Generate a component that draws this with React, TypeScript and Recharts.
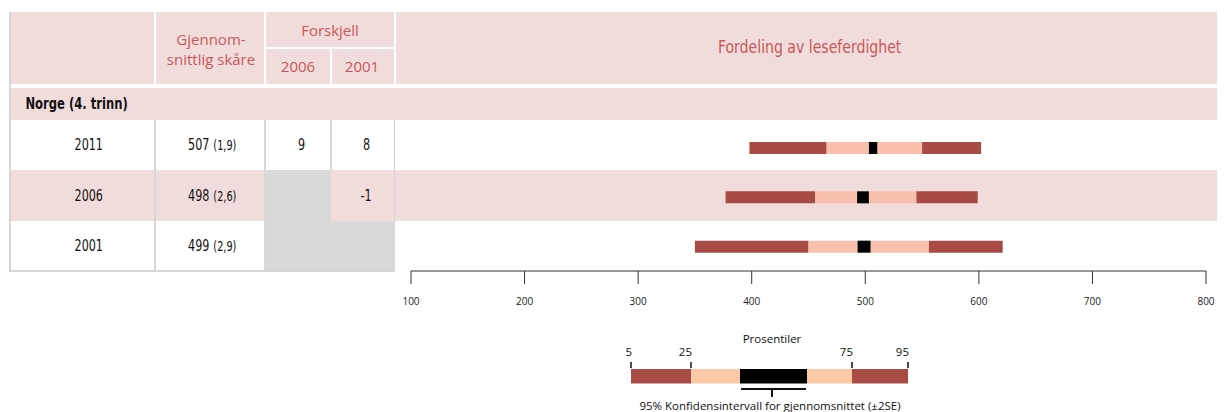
import React from 'react';
import { BarChart, Bar, XAxis, YAxis } from 'recharts';

// rows of the table / chart
const YEARS = ['2011', '2006', '2001'];
const MEANS = [507, 498, 499];
const SE = [1.9, 2.6, 2.9];
const DIFF_2006 = ['9', '', ''];
const DIFF_2001 = ['8', '-1', ''];
// percentiles
const P5 = [398, 377, 350];
const P25 = [466, 456, 450];
const P75 = [550, 545, 556];
const P95 = [602, 599, 621];
const AXIS_TICKS = [100, 200, 300, 400, 500, 600, 700, 800];

// schematic legend bar (arbitrary units)
const LEGEND_STOPS = [0, 60, 109, 176, 221, 277];
const LEGEND_TICKS = [0, 60, 221, 277];
const LEGEND_LABELS = ['5', '25', '75', '95'];

const PINK = '#f1dcdc';
const RED_TEXT = '#c9585a';
const DARK = '#a84b44';
const LIGHT = '#f9c0ab';
const LEGEND_LIGHT = '#fbc9a5';
const GRAY = '#d9d9d9';
const LINE = '#d6d6d6';

const NARROW = "'Liberation Sans Narrow', 'Arial Narrow', 'DejaVu Sans Condensed', sans-serif";
const SANS = "'Open Sans', 'Noto Sans', sans-serif";

const rowTops = [120, 170, 221];
const rowBottoms = [170, 221, 270];

const Box = ({ x1, y1, x2, y2, bg }: any) => (
  <div style={{ position: 'absolute', left: x1, top: y1, width: x2 - x1, height: y2 - y1, background: bg }} />
);

const Txt = ({ cx, cy, children, style, squeeze = 1 }: any) => (
  <div
    style={{
      position: 'absolute', left: cx - 150, top: cy - 12, width: 300, height: 24,
      display: 'flex', alignItems: 'center', justifyContent: 'center', whiteSpace: 'nowrap',
      ...style,
    }}
  >
    <span style={{ display: 'inline-block', transform: `scaleX(${squeeze})` }}>{children}</span>
  </div>
);

const LegendTick = (props: any) => {
  const { x, y, payload } = props;
  const idx = LEGEND_TICKS.indexOf(payload.value);
  return (
    <text x={x + 1} y={y} textAnchor="end" fontSize={11.5} fill="#111" fontFamily={SANS}>
      {LEGEND_LABELS[idx]}
    </text>
  );
};

export default function App() {
  const data = YEARS.map((year, i) => {
    const lo = MEANS[i] - 2 * SE[i];
    const hi = MEANS[i] + 2 * SE[i];
    return {
      year,
      base: P5[i],
      s1: P25[i] - P5[i],
      s2: lo - P25[i],
      s3: hi - lo,
      s4: P75[i] - hi,
      s5: P95[i] - P75[i],
    };
  });

  const legendData = [{
    name: 'legend',
    s1: LEGEND_STOPS[1] - LEGEND_STOPS[0],
    s2: LEGEND_STOPS[2] - LEGEND_STOPS[1],
    s3: LEGEND_STOPS[3] - LEGEND_STOPS[2],
    s4: LEGEND_STOPS[4] - LEGEND_STOPS[3],
    s5: LEGEND_STOPS[5] - LEGEND_STOPS[4],
  }];

  const headText = { color: RED_TEXT, fontFamily: SANS, fontSize: 15 };
  const cellText = { color: '#111', fontFamily: NARROW, fontSize: 15.5 };

  return (
    <div style={{ position: 'relative', width: 1225, height: 412, margin: '-8px 0 0 -8px', background: '#fff', overflow: 'hidden' }}>
      {/* header cells */}
      <Box x1={11} y1={12} x2={153.5} y2={83.5} bg={PINK} />
      <Box x1={155.5} y1={12} x2={263.5} y2={83.5} bg={PINK} />
      <Box x1={265.5} y1={12} x2={393.5} y2={47} bg={PINK} />
      <Box x1={265.5} y1={49} x2={329.5} y2={83.5} bg={PINK} />
      <Box x1={331.5} y1={49} x2={393.5} y2={83.5} bg={PINK} />
      <Box x1={395.5} y1={12} x2={1222} y2={83.5} bg={PINK} />
      {/* Norge row */}
      <Box x1={11} y1={87.5} x2={1222} y2={120} bg={PINK} />
      {/* 2006 row band */}
      <Box x1={11} y1={170} x2={1222} y2={221} bg={PINK} />
      {/* table lines */}
      <Box x1={9} y1={12} x2={11} y2={272} bg={LINE} />
      <Box x1={9} y1={270} x2={395} y2={272} bg={LINE} />
      <Box x1={1221.5} y1={12} x2={1222.5} y2={120} bg={LINE} />
      {[153.5, 263.5].map((x) => (
        <Box key={x} x1={x} y1={120} x2={x + 2} y2={270} bg={LINE} />
      ))}
      <Box x1={329.5} y1={120} x2={331.5} y2={170} bg={LINE} />
      <Box x1={393.5} y1={120} x2={395} y2={221} bg={LINE} />
      {/* empty difference cells */}
      <Box x1={265} y1={170} x2={331} y2={221} bg={GRAY} />
      <Box x1={265} y1={221} x2={395} y2={270} bg={GRAY} />

      {/* header texts */}
      <Txt cx={211} cy={39} style={headText}>Gjennom-</Txt>
      <Txt cx={211} cy={59} style={headText}>snittlig skåre</Txt>
      <Txt cx={330} cy={30} style={headText}>Forskjell</Txt>
      <Txt cx={298} cy={66} style={headText}>2006</Txt>
      <Txt cx={362} cy={66} style={headText}>2001</Txt>
      <Txt cx={810} cy={47} squeeze={0.92} style={{ ...headText, fontFamily: NARROW, fontSize: 17 }}>Fordeling av leseferdighet</Txt>
      <Txt cx={77} cy={103} squeeze={0.78} style={{ fontFamily: NARROW, fontWeight: 700, fontSize: 16.5, color: '#111' }}>
        Norge (4. trinn)
      </Txt>

      {/* row texts */}
      {YEARS.map((y, i) => {
        const cy = (rowTops[i] + rowBottoms[i]) / 2;
        return (
          <React.Fragment key={y}>
            <Txt cx={88.5} cy={cy} squeeze={0.8} style={cellText}>{y}</Txt>
            <Txt cx={212} cy={cy} squeeze={0.8} style={cellText}>
              {MEANS[i]}<span style={{ fontSize: 13.5, marginLeft: 5 }}>({SE[i].toFixed(1).replace('.', ',')})</span>
            </Txt>
            <Txt cx={301} cy={cy} squeeze={0.8} style={cellText}>{DIFF_2006[i]}</Txt>
            <Txt cx={366} cy={cy} squeeze={0.8} style={cellText}>{DIFF_2001[i]}</Txt>
          </React.Fragment>
        );
      })}

      {/* distribution bars */}
      <div style={{ position: 'absolute', left: 395, top: 115 }}>
        <BarChart
          width={827}
          height={200}
          data={data}
          layout="vertical"
          margin={{ top: 6, right: 16, bottom: 0, left: 16 }}
        >
          <XAxis
            type="number"
            domain={[100, 800]}
            allowDataOverflow
            ticks={AXIS_TICKS}
            interval={0}
            height={44}
            axisLine={{ stroke: '#777', strokeWidth: 1.5 }}
            tickLine={{ stroke: '#333', strokeWidth: 1 }}
            tickSize={13}
            tickMargin={14}
            tick={{ fontSize: 10, fill: '#222', fontFamily: SANS }}
          />
          <YAxis type="category" dataKey="year" hide padding={{ top: 2, bottom: 0 }} />
          <Bar dataKey="base" stackId="d" fill="transparent" barSize={12} isAnimationActive={false} />
          <Bar dataKey="s1" stackId="d" fill={DARK} barSize={12} isAnimationActive={false} />
          <Bar dataKey="s2" stackId="d" fill={LIGHT} barSize={12} isAnimationActive={false} />
          <Bar dataKey="s3" stackId="d" fill="#000" barSize={12} isAnimationActive={false} />
          <Bar dataKey="s4" stackId="d" fill={LIGHT} barSize={12} isAnimationActive={false} />
          <Bar dataKey="s5" stackId="d" fill={DARK} barSize={12} isAnimationActive={false} />
        </BarChart>
      </div>

      {/* legend */}
      <Txt cx={772} cy={338} style={{ fontFamily: SANS, fontSize: 11.5, color: '#111' }}>Prosentiler</Txt>
      <div style={{ position: 'absolute', left: 611, top: 340 }}>
        <BarChart
          width={317}
          height={44}
          data={legendData}
          layout="vertical"
          margin={{ top: 0, right: 20, bottom: 0, left: 20 }}
        >
          <XAxis
            type="number"
            orientation="top"
            domain={[LEGEND_STOPS[0], LEGEND_STOPS[LEGEND_STOPS.length - 1]]}
            ticks={LEGEND_TICKS}
            interval={0}
            height={28}
            axisLine={false}
            tickLine={{ stroke: '#111', strokeWidth: 1.5 }}
            tickSize={6}
            tickMargin={6}
            tick={<LegendTick />}
          />
          <YAxis type="category" dataKey="name" hide />
          <Bar dataKey="s1" stackId="l" fill={DARK} barSize={16} isAnimationActive={false} />
          <Bar dataKey="s2" stackId="l" fill={LEGEND_LIGHT} barSize={16} isAnimationActive={false} />
          <Bar dataKey="s3" stackId="l" fill="#000" barSize={16} isAnimationActive={false} />
          <Bar dataKey="s4" stackId="l" fill={LEGEND_LIGHT} barSize={16} isAnimationActive={false} />
          <Bar dataKey="s5" stackId="l" fill={DARK} barSize={16} isAnimationActive={false} />
        </BarChart>
      </div>
      <Box x1={741} y1={388} x2={806} y2={390} bg="#111" />
      <Box x1={771} y1={389} x2={773} y2={397} bg="#111" />
      <Txt cx={770} cy={405} style={{ fontFamily: SANS, fontSize: 11.5, color: '#111' }}>
        95% Konfidensintervall for gjennomsnittet (±2SE)
      </Txt>
    </div>
  );
}
